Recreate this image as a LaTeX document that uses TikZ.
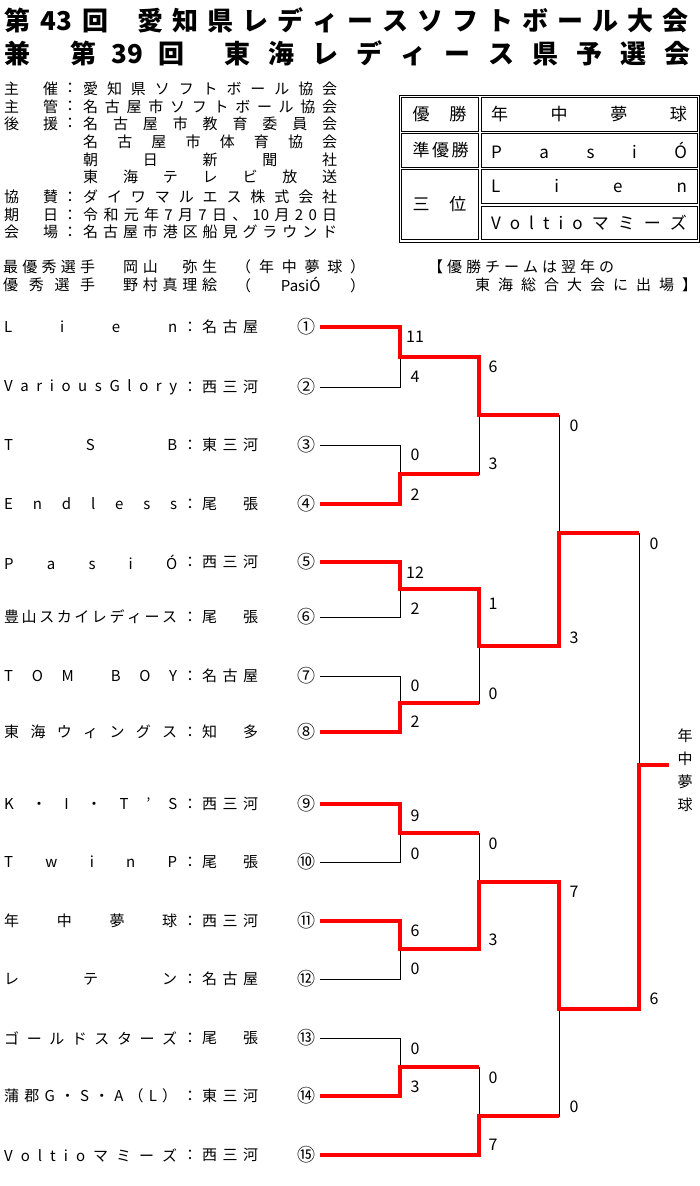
\documentclass[tikz,border=0pt]{standalone}
\usepackage{fontspec}
\setmainfont{Noto Sans CJK JP}
\usepackage{tikz}
\usetikzlibrary{calc}

\definecolor{winred}{RGB}{255,0,0}
\newcommand\spread[2]{\makebox[#1][s]{#2}}
\newcommand\tbox[2]{\makebox[#1pt]{#2}}
\newcommand\ttlfont{\fontsize{26}{26}\selectfont\bfseries}
\newcommand\tblfont{\fontsize{17}{17}\selectfont}
\newcommand\txtfont{\fontsize{15}{15}\selectfont}
\newcommand\scofont{\fontsize{16}{16}\selectfont}

\tikzset{
  txt/.style={inner sep=0pt, font=\txtfont},
  cell/.style={draw, line width=1pt, inner sep=0pt, font=\tblfont},
  num/.style={inner sep=0pt, minimum width=28pt, font=\fontsize{18}{18}\selectfont},
  score/.style={inner sep=0pt, font=\scofont},
  lose/.style={line width=0.8pt},
  win/.style={draw=winred, line width=3.2pt}
}

\begin{document}
\begin{tikzpicture}[x=1pt,y=-1pt]
\useasboundingbox (0,0) rectangle (700,1186);

% title
\node[anchor=west, inner sep=0pt, font=\ttlfont] (title1) at (-2,20)
  {\tbox{39}{第}\tbox{39}{43}\tbox{39}{回}\hspace{18pt}\tbox{35}{愛}\tbox{35}{知}\tbox{35}{県}\tbox{35}{レ}\tbox{35}{デ}\tbox{35}{ィ}\tbox{35}{ー}\tbox{35}{ス}\tbox{35}{ソ}\tbox{35}{フ}\tbox{35}{ト}\tbox{35}{ボ}\tbox{35}{ー}\tbox{35}{ル}\tbox{35}{大}\tbox{35}{会}};
\node[anchor=west, inner sep=0pt, font=\ttlfont] (title2) at (-4.5,53)
  {\tbox{44}{兼}\hspace{22pt}\tbox{44}{第}\tbox{44}{39}\tbox{44}{回}\hspace{22pt}\tbox{44}{東}\tbox{44}{海}\tbox{44}{レ}\tbox{44}{デ}\tbox{44}{ィ}\tbox{44}{ー}\tbox{44}{ス}\tbox{44}{県}\tbox{44}{予}\tbox{44}{選}\tbox{44}{会}};

% organisers
\foreach \n/\y/\lab/\val in {
  1/88.5/{主 催}/{愛 知 県 ソ フ ト ボ ー ル 協 会},
  2/106.5/{主 管}/{名 古 屋 市 ソ フ ト ボ ー ル 協 会},
  3/123.5/{後 援}/{名 古 屋 市 教 育 委 員 会},
  7/197/{協 賛}/{ダ イ ワ マ ル エ ス 株 式 会 社},
  8/215/{期 日}/{令 和 元 年 7 月 7 日 、 10 月 2 0 日},
  9/232/{会 場}/{名 古 屋 市 港 区 船 見 グ ラ ウ ン ド}}
{
  \node[txt, anchor=west] (lab\n) at (4,\y) {\spread{54pt}{\lab}};
  \node[txt] (col\n) at (70,\y) {：};
  \node[txt, anchor=west] (val\n) at (83,\y) {\spread{254pt}{\val}};
}
\node[txt, anchor=west] (val4) at (83,141.5) {\spread{254pt}{名 古 屋 市 体 育 協 会}};
\node[txt, anchor=west] (val5) at (83,160) {\spread{254pt}{朝 日 新 聞 社}};
\node[txt, anchor=west] (val6) at (83,176.5) {\spread{254pt}{東 海 テ レ ビ 放 送}};

% results table
\draw[line width=0.8pt] (399,95) rectangle (699,242);
\node[cell, minimum width=77pt, minimum height=34pt] (k1) at (439.5,114) {\spread{54pt}{優 勝}};
\node[cell, minimum width=216pt, minimum height=34pt] (v1) at (589,114) {\spread{196pt}{年 中 夢 球}};
\node[cell, minimum width=77pt, minimum height=34pt] (k2) at (439.5,150) {\spread{54pt}{準 優 勝}};
\node[cell, minimum width=216pt, minimum height=34pt] (v2) at (589,150) {\spread{196pt}{P a s i Ó}};
\node[cell, minimum width=77pt, minimum height=70pt] (k3) at (439.5,204) {\spread{54pt}{三 位}};
\node[cell, minimum width=216pt, minimum height=34pt] (v3) at (589,186) {\spread{196pt}{L i e n}};
\node[cell, minimum width=216pt, minimum height=33pt] (v4) at (589,222.5) {\spread{196pt}{V o l t i o マ ミ ー ズ}};

% players
\node[txt, anchor=west] (mvp) at (3,267) {\spread{92pt}{最 優 秀 選 手}};
\node[txt, anchor=west] (mvpname) at (123,267) {\spread{94pt}{岡 山 　 弥 生}};
\node[txt, anchor=west] (mvpteam) at (236,267) {\spread{129pt}{（ 年 中 夢 球 ）}};
\node[txt, anchor=west] (exc) at (3,285) {\spread{92pt}{優 秀 選 手}};
\node[txt, anchor=west] (excname) at (123,285) {\spread{94pt}{野 村 真 理 絵}};
\node[txt, anchor=west] (excteam) at (236,285) {\spread{129pt}{（ PasiÓ ）}};
\node[txt, anchor=west] (note1) at (428,267) {\spread{186pt}{【 優 勝 チ ー ム は 翌 年 の}};
\node[txt, anchor=west] (note2) at (475,285) {\spread{222pt}{東 海 総 合 大 会 に 出 場 】}};

% teams
\foreach \i/\c/\y/\nm/\rg in {
  1/①/327/{L i e n}/{名 古 屋},
  2/②/387/{V a r i o u s G l o r y}/{西 三 河},
  3/③/445/{T S B}/{東 三 河},
  4/④/504/{E n d l e s s}/{尾 張},
  5/⑤/562/{P a s i Ó}/{西 三 河},
  6/⑥/617/{豊 山 ス カ イ レ デ ィ ー ス}/{尾 張},
  7/⑦/676/{T O M \ B O Y}/{名 古 屋},
  8/⑧/732/{東 海 ウ ィ ン グ ス}/{知 多},
  9/⑨/804/{K ・ I ・ T ’ S}/{西 三 河},
  10/⑩/862/{T w i n P}/{尾 張},
  11/⑪/921/{年 中 夢 球}/{西 三 河},
  12/⑫/979/{レ テ ン}/{名 古 屋},
  13/⑬/1038/{ゴ ー ル ド ス タ ー ズ}/{尾 張},
  14/⑭/1096/{蒲 郡 G ・ S ・ A （ L ）}/{東 三 河},
  15/⑮/1155/{V o l t i o マ ミ ー ズ}/{西 三 河}}
{
  \node[txt, anchor=west] (n\i) at (4,\y) {\spread{173pt}{\nm}};
  \node[txt] (c\i) at (190,\y) {：};
  \node[txt, anchor=west] (r\i) at (202,\y) {\spread{56pt}{\rg}};
  \node[num] (t\i) at (306,\y) {\c};
}

% bracket joints
\coordinate (a1) at (400,357);
\coordinate (a2) at (400,474);
\coordinate (a3) at (400,589);
\coordinate (a4) at (400,703);
\coordinate (a5) at (400,833);
\coordinate (a6) at (400,949);
\coordinate (a7) at (400,1067);
\coordinate (b1) at (479,415);
\coordinate (b2) at (479,646);
\coordinate (b3) at (479,882);
\coordinate (b4) at (479,1116);
\coordinate (c1) at (559,533);
\coordinate (c2) at (559,1009);
\coordinate (f) at (639,765);
\coordinate (w) at (669,765);

\foreach \i/\j in {1/a1,2/a1,3/a2,4/a2,5/a3,6/a3,7/a4,8/a4,9/a5,10/a5,11/a6,12/a6,13/a7,14/a7}
  \draw[lose] (t\i.east) -| (\j);
\draw[lose] (t15.east) -| (b4);
\foreach \p/\q in {a1/b1,a2/b1,a3/b2,a4/b2,a5/b3,a6/b3,a7/b4,b1/c1,b2/c1,b3/c2,b4/c2,c1/f,c2/f}
  \draw[lose] (\p) -| (\q);
\draw[lose] (f) -- (w);

% winners
\draw[win] (t1.east) -| (a1) -| (b1) -- (c1 |- b1);
\draw[win] (t4.east) -| (a2) -- (b1 |- a2);
\draw[win] (t5.east) -| (a3) -| (b2) -| (c1) -- (f |- c1);
\draw[win] (t8.east) -| (a4) -- (b2 |- a4);
\draw[win] (t9.east) -| (a5) -- (b3 |- a5);
\draw[win] (t11.east) -| (a6) -| (b3) -| (c2) -| (f) -- (w);
\draw[win] (t14.east) -| (a7) -- (b4 |- a7);
\draw[win] (t15.east) -| (b4) -- (c2 |- b4);

% scores
\foreach \x/\y/\s in {
  415/337/11, 415/377/4, 415/455/0, 415/495/2, 415/573/12, 415/609/2, 415/686/0, 415/722/2,
  415/816/9, 415/854/0, 415/931/6, 415/969/0, 415/1049/0, 415/1087/3,
  493/367/6, 493/464/3, 493/604/1, 493/694/0, 493/844/0, 493/940/3, 493/1078/0, 493/1145/7,
  574/426/0, 574/638/3, 574/892/7, 574/1107/0,
  654/544/0, 654/999/6}
  \node[score] (s-\x-\y) at (\x,\y) {\s};

\node[inner sep=0pt, align=center, font=\fontsize{15}{23}\selectfont] (champ) at (685,770) {年\\中\\夢\\球};
\end{tikzpicture}
\end{document}
